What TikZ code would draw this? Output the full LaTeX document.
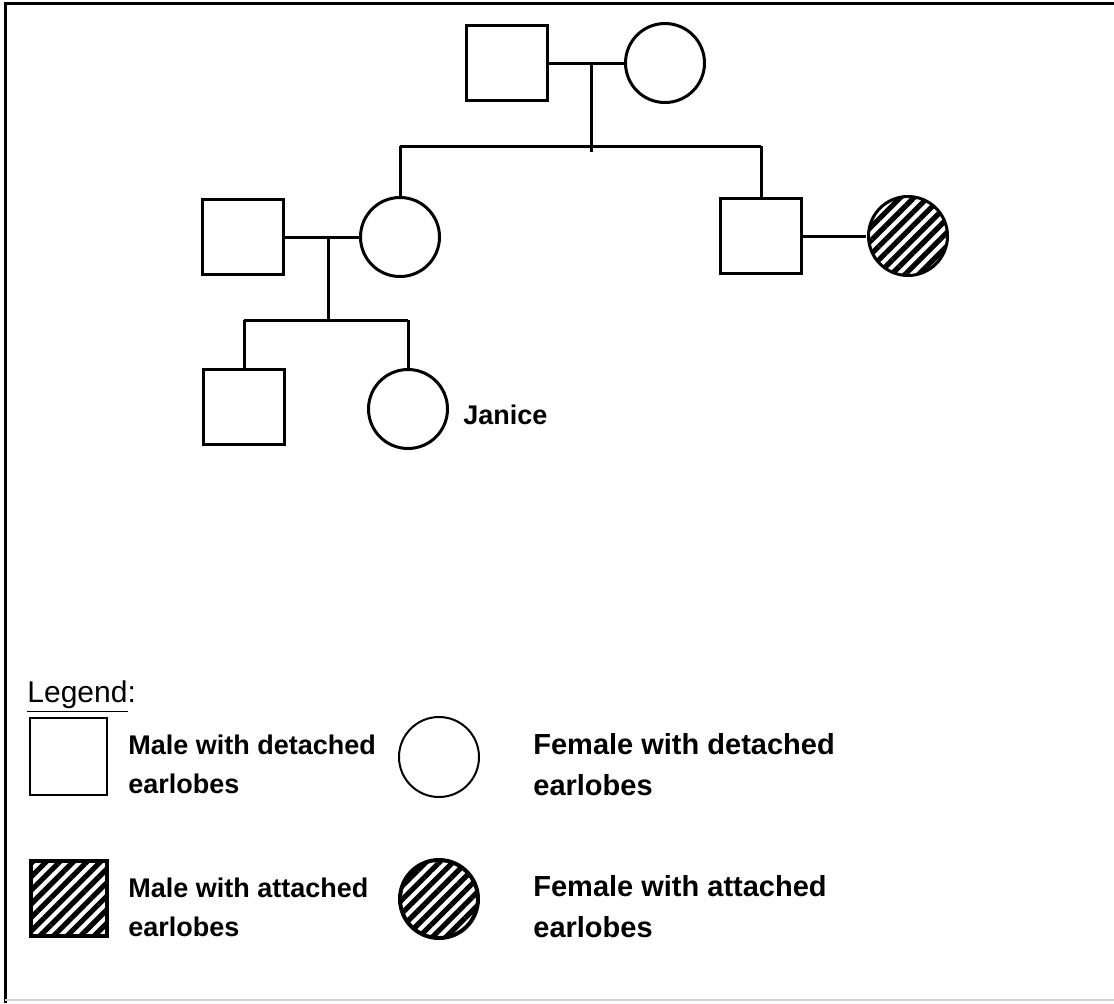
\documentclass[tikz,border=0pt]{standalone}
\usepackage{fontspec}
\setmainfont{Liberation Sans}
\usetikzlibrary{patterns.meta}

\begin{document}
\begin{tikzpicture}
[
    x = 0.5pt, y = -0.5pt,
    male/.style = {draw, line width = 1.5pt, minimum width = 40.5pt, minimum height = 37.5pt, inner sep = 0pt},
    female/.style = {draw, circle, line width = 1.5pt, minimum size = 39.5pt, inner sep = 0pt},
    hatch/.style = {pattern = {Lines[angle = 45, distance = 4.8pt, line width = 2.6pt]}},
    link/.style = {line width = 1.5pt},
    note/.style = {font = \bfseries\fontsize{13.5}{19.5}\selectfont, align = left, inner sep = 0pt, anchor = west},
    bignote/.style = {note, font = \bfseries\fontsize{14.5}{20.5}\selectfont}
]
\useasboundingbox (0,0) rectangle (1114,1003);

% frame
\draw[line width = 1.5pt] (1114,3) -- (5,3) -- (5,1003);
\draw[gray!35, line width = 1pt] (5,1000) -- (1114,1000);

% first generation
\node[male]   (gf) at (507,63) {};
\node[female] (gm) at (665,63) {};
\coordinate (m1) at (591,63);
\coordinate (d1) at (591,152);
\coordinate (s1) at (591,146);

% second generation
\node[male]          (dad)   at (243,237) {};
\node[female]        (mom)   at (400,237) {};
\node[male]          (uncle) at (761,236) {};
\node[female, hatch] (aunt)  at (908,236) {};
\coordinate (m2) at (328,237);
\coordinate (s2) at (328,320);

% third generation
\node[male]   (son)    at (244,407) {};
\node[female] (janice) at (408,409) {};
\node[anchor = base west, inner sep = 0pt, font = \bfseries\fontsize{13.5}{16}\selectfont] (jname) at (463,424) {Janice};

\draw[link] (gf) -- (gm);
\draw[link] (m1) -- (d1);
\draw[link] (mom |- s1) -- (uncle |- s1);
\draw[link] (mom |- s1) -- (mom);
\draw[link] (uncle |- s1) -- (uncle);
\draw[link] (uncle) -- (aunt);

\draw[link] (dad) -- (mom);
\draw[link] (m2) -- (s2);
\draw[link] (son |- s2) -- (janice |- s2);
\draw[link] (son |- s2) -- (son);
\draw[link] (janice |- s2) -- (janice);

% legend
\node[anchor = base west, inner sep = 0pt, font = \fontsize{15}{18}\selectfont] (legend) at (27,702) {\underline{Legend}:};

\node[male, line width = 1pt, minimum width = 38.5pt, minimum height = 38.5pt] (lmd) at (68,756) {};
\node[female, line width = 1pt, minimum size = 40pt] (lfd) at (439,757) {};
\node[male, hatch, line width = 2pt, minimum width = 38pt, minimum height = 37.5pt] (lma) at (69,898) {};
\node[female, hatch, line width = 2pt, minimum size = 39pt] (lfa) at (439,899) {};

\node[note]    (tmd) at (128,764) {Male with detached\\earlobes};
\node[bignote] (tfd) at (533,765) {Female with detached\\earlobes};
\node[note]    (tma) at (128,907) {Male with attached\\earlobes};
\node[bignote] (tfa) at (533,907) {Female with attached\\earlobes};
\end{tikzpicture}
\end{document}
